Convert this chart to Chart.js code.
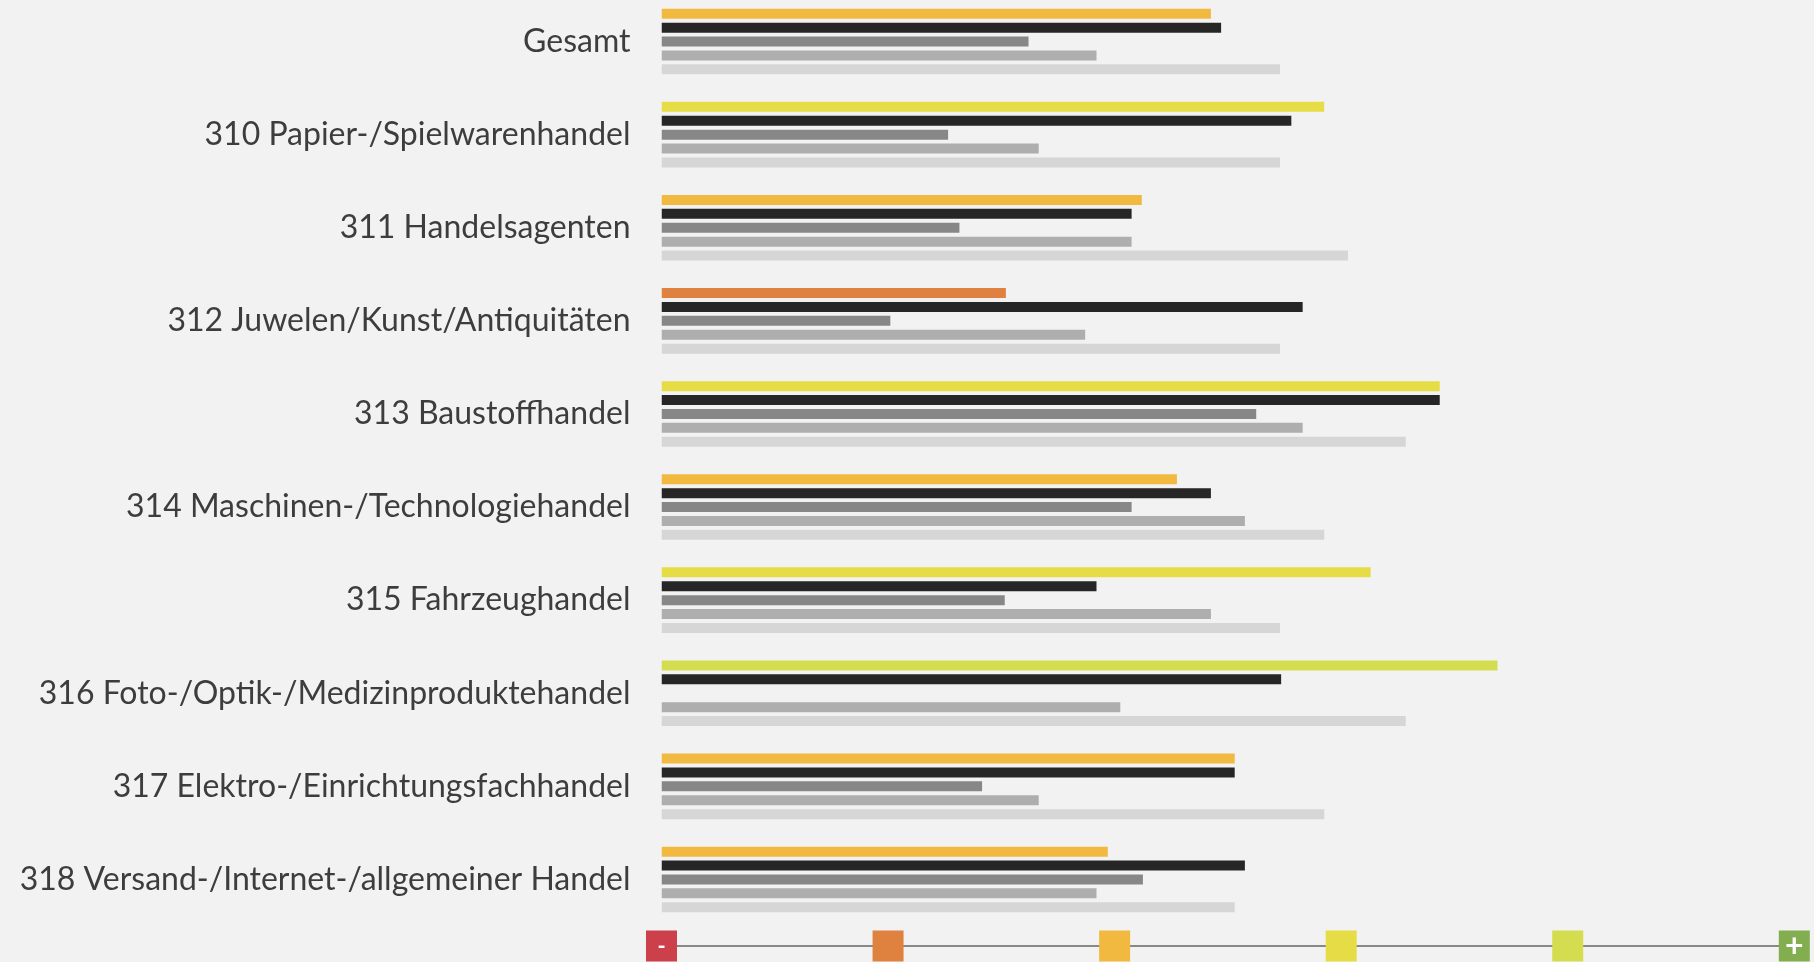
<!DOCTYPE html>
<html>
<head>
<meta charset="utf-8">
<script src="https://cdn.jsdelivr.net/npm/chart.js@4"></script>
<style>
  html, body { margin: 0; padding: 0; background: #f2f2f2; overflow: hidden; }
  #wrap { position: absolute; left: 0; top: -5px; width: 1814px; height: 967px; }
</style>
</head>
<body>
<div id="wrap"><canvas id="barChart"></canvas></div>
<script>
// Branchen
var categories = [
  'Gesamt',
  '310 Papier-/Spielwarenhandel',
  '311 Handelsagenten',
  '312 Juwelen/Kunst/Antiquitäten',
  '313 Baustoffhandel',
  '314 Maschinen-/Technologiehandel',
  '315 Fahrzeughandel',
  '316 Foto-/Optik-/Medizinproduktehandel',
  '317 Elektro-/Einrichtungsfachhandel',
  '318 Versand-/Internet-/allgemeiner Handel'
];

// Werte je Reihe (Skala 0 = "-" bis 100 = "+")
var aktuell   = [48.5, 58.5, 42.4, 30.4, 68.7, 45.5, 62.6, 73.8, 50.6, 39.4];
var reihe2    = [49.4, 55.6, 41.5, 56.6, 68.7, 48.5, 38.4, 54.7, 50.6, 51.5];
var reihe3    = [32.4, 25.3, 26.3, 20.2, 52.5, 41.5, 30.3, null, 28.3, 42.5];
var reihe4    = [38.4, 33.3, 41.5, 37.4, 56.6, 51.5, 48.5, 40.5, 33.3, 38.4];
var reihe5    = [54.6, 54.6, 60.6, 54.6, 65.7, 58.5, 54.6, 65.7, 58.5, 50.6];

// Farben der ersten Reihe (Ampel je Wert)
var aktuellFarben = ['#f2b940', '#e6dc45', '#f2b940', '#e0823f', '#e6dc45',
                     '#f2b940', '#e6dc45', '#d4dc4f', '#f2b940', '#f2b940'];

// Skala unten
var skalaWerte  = [0, 20, 40, 60, 80, 100];
var skalaLabels = ['-', '', '', '', '', '+'];
var skalaFarben = ['#cb404b', '#e0823f', '#f2b940', '#e6dc45', '#d4dc4f', '#82ae4f'];

var skalaPlugin = {
  id: 'skala',
  afterDraw: function (chart) {
    var ctx = chart.ctx;
    var x = chart.scales.x;
    var y0 = chart.chartArea.bottom + 20;
    ctx.save();
    ctx.strokeStyle = '#888888';
    ctx.lineWidth = 2;
    ctx.beginPath();
    ctx.moveTo(x.getPixelForValue(skalaWerte[0]), y0);
    ctx.lineTo(x.getPixelForValue(skalaWerte[skalaWerte.length - 1]), y0);
    ctx.stroke();
    ctx.textAlign = 'center';
    ctx.textBaseline = 'middle';
    skalaWerte.forEach(function (v, i) {
      var px = x.getPixelForValue(v);
      ctx.fillStyle = skalaFarben[i];
      ctx.fillRect(px - 15.5, y0 - 15.5, 31, 31);
      if (skalaLabels[i]) {
        ctx.fillStyle = '#ffffff';
        ctx.font = skalaLabels[i] === '+' ? 'bold 32px Lato' : 'bold 22px Lato';
        ctx.fillText(skalaLabels[i], px, y0 + 1);
      }
    });
    ctx.restore();
  }
};

var barChartCanvas = document.getElementById('barChart').getContext('2d');

var common = { barPercentage: 0.72, categoryPercentage: 0.7465, borderWidth: 0 };

var barChartData = {
  labels: categories,
  datasets: [
    Object.assign({ label: 'aktuell', data: aktuell, backgroundColor: aktuellFarben }, common),
    Object.assign({ label: 'Reihe 2', data: reihe2, backgroundColor: '#262626' }, common),
    Object.assign({ label: 'Reihe 3', data: reihe3, backgroundColor: '#878787' }, common),
    Object.assign({ label: 'Reihe 4', data: reihe4, backgroundColor: '#aeaeae' }, common),
    Object.assign({ label: 'Reihe 5', data: reihe5, backgroundColor: '#d6d6d6' }, common)
  ]
};

var barChartOptions = {
  indexAxis: 'y',
  responsive: true,
  maintainAspectRatio: false,
  animation: false,
  layout: { padding: { top: 0, right: 19.7, bottom: 36, left: 0 } },
  plugins: { legend: { display: false }, tooltip: { enabled: false } },
  scales: {
    x: {
      display: false,
      min: 0,
      max: 100,
      ticks: { stepSize: 20 }
    },
    y: {
      grid: { display: false, drawTicks: false },
      border: { display: false },
      ticks: {
        color: '#3d3d3d',
        padding: 31,
        font: { family: 'Lato', size: 32 }
      },
      afterFit: function (scale) {
        scale.width = 661.5;
        scale.paddingTop = 0;
        scale.paddingBottom = 0;
      }
    }
  }
};

new Chart(barChartCanvas, {
  type: 'bar',
  data: barChartData,
  options: barChartOptions,
  plugins: [skalaPlugin]
});
</script>
</body>
</html>
